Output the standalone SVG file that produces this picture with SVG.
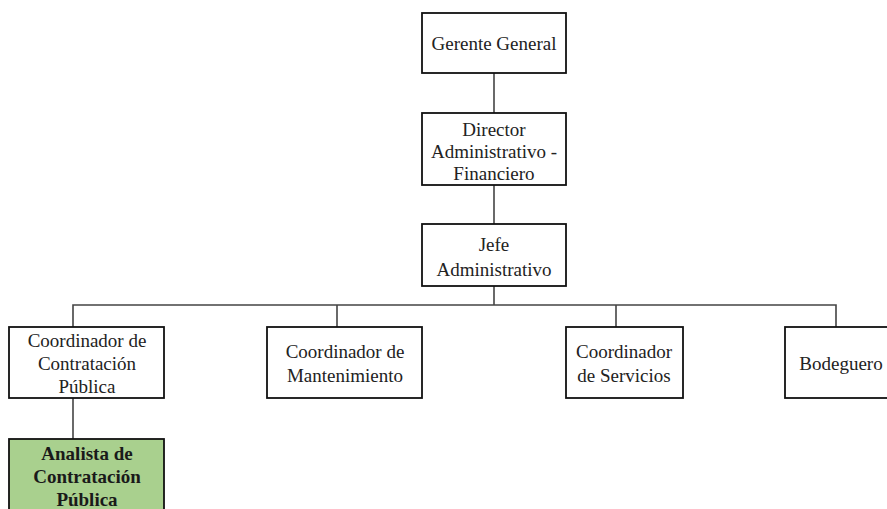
<svg xmlns="http://www.w3.org/2000/svg" width="887" height="509" viewBox="0 0 887 509">
  <style>
    .box { fill: #ffffff; stroke: #111111; stroke-width: 1.8; }
    .box.hl { fill: #a9d08e; }
    .lbl { font-family: "Liberation Serif", "Times New Roman", serif; font-size: 19px; fill: #222222; text-anchor: middle; }
    .lbl.b { font-weight: bold; fill: #1a1a1a; }
    .wire { fill: none; stroke: #444444; stroke-width: 1.6; }
  </style>
  <rect width="887" height="509" fill="#ffffff"/>

  <!-- reporting lines -->
  <g id="connectors">
    <line class="wire" x1="494" y1="73" x2="494" y2="113"/>
    <line class="wire" x1="494" y1="185" x2="494" y2="224"/>
    <line class="wire" x1="494" y1="286" x2="494" y2="305"/>
    <polyline class="wire" points="73,327 73,305 836,305 836,327"/>
    <line class="wire" x1="337" y1="305" x2="337" y2="327"/>
    <line class="wire" x1="616" y1="305" x2="616" y2="327"/>
    <line class="wire" x1="73" y1="398" x2="73" y2="439"/>
  </g>

  <g id="gerente-general">
    <rect class="box" x="422" y="13" width="144" height="60"/>
    <text class="lbl" x="494" y="50">Gerente General</text>
  </g>

  <g id="director-administrativo">
    <rect class="box" x="422" y="113" width="144" height="72"/>
    <text class="lbl" x="494" y="136">Director</text>
    <text class="lbl" x="494" y="158">Administrativo -</text>
    <text class="lbl" x="494" y="180">Financiero</text>
  </g>

  <g id="jefe-administrativo">
    <rect class="box" x="422" y="224" width="144" height="62"/>
    <text class="lbl" x="494" y="251">Jefe</text>
    <text class="lbl" x="494" y="276">Administrativo</text>
  </g>

  <g id="coordinador-contratacion">
    <rect class="box" x="9" y="327" width="155" height="71"/>
    <text class="lbl" x="87" y="347">Coordinador de</text>
    <text class="lbl" x="87" y="370">Contratación</text>
    <text class="lbl" x="87" y="393">Pública</text>
  </g>

  <g id="coordinador-mantenimiento">
    <rect class="box" x="267" y="327" width="155" height="71"/>
    <text class="lbl" x="345" y="358">Coordinador de</text>
    <text class="lbl" x="345" y="382">Mantenimiento</text>
  </g>

  <g id="coordinador-servicios">
    <rect class="box" x="566" y="327" width="117" height="71"/>
    <text class="lbl" x="624" y="358">Coordinador</text>
    <text class="lbl" x="624" y="382">de Servicios</text>
  </g>

  <g id="bodeguero">
    <rect class="box" x="785" y="327" width="112" height="71"/>
    <text class="lbl" x="841" y="370">Bodeguero</text>
  </g>

  <g id="analista-contratacion">
    <rect class="box hl" x="9" y="439" width="155" height="80"/>
    <text class="lbl b" x="87" y="460">Analista de</text>
    <text class="lbl b" x="87" y="483">Contratación</text>
    <text class="lbl b" x="87" y="506">Pública</text>
  </g>
</svg>
